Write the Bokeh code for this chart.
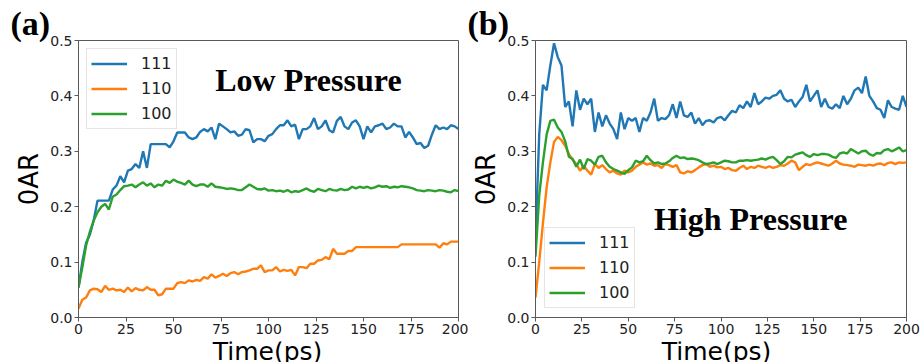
import math
from bokeh.plotting import figure
from bokeh.layouts import row, column
from bokeh.models import Label, FixedTicker, PrintfTickFormatter, Range1d, Title
from bokeh.embed import file_html
from bokeh.resources import INLINE

# ---------------- data ----------------
time_ps = list(range(0, 201, 2))
x_ticks = [0, 25, 50, 75, 100, 125, 150, 175, 200]
y_ticks = [0.0, 0.1, 0.2, 0.3, 0.4, 0.5]
series_names = ["111", "110", "100"]
series_colors = ["#1f77b4", "#ff7f0e", "#2ca02c"]

low_111 = [
    0.054, 0.10, 0.135, 0.15, 0.175, 0.211, 0.211, 0.211, 0.211, 0.231,
    0.238, 0.255, 0.244, 0.265, 0.268, 0.277, 0.27, 0.30, 0.27, 0.313,
    0.313, 0.313, 0.313, 0.313, 0.307, 0.318, 0.334, 0.334, 0.334, 0.325,
    0.322, 0.325, 0.335, 0.34, 0.336, 0.343, 0.322, 0.35, 0.345, 0.34,
    0.334, 0.336, 0.328, 0.33, 0.34, 0.338, 0.316, 0.322, 0.322, 0.318,
    0.328, 0.331, 0.34, 0.347, 0.347, 0.356, 0.345, 0.348, 0.322, 0.34,
    0.34, 0.345, 0.36, 0.34, 0.345, 0.356, 0.338, 0.334, 0.355, 0.362,
    0.345, 0.34, 0.352, 0.356, 0.345, 0.322, 0.345, 0.334, 0.345, 0.347,
    0.35, 0.34, 0.343, 0.35, 0.345, 0.345, 0.325, 0.335, 0.325, 0.313,
    0.315, 0.306, 0.31, 0.33, 0.347, 0.34, 0.343, 0.34, 0.347, 0.345,
    0.34,
]
low_110 = [
    0.016, 0.032, 0.036, 0.049, 0.052, 0.051, 0.046, 0.057, 0.05, 0.052,
    0.049, 0.05, 0.046, 0.054, 0.047, 0.053, 0.05, 0.049, 0.055, 0.05,
    0.05, 0.04, 0.042, 0.052, 0.052, 0.052, 0.062, 0.064, 0.062, 0.067,
    0.065, 0.068, 0.066, 0.073, 0.07, 0.078, 0.072, 0.075, 0.079, 0.075,
    0.08, 0.082, 0.078, 0.082, 0.083, 0.085, 0.088, 0.088, 0.094, 0.082,
    0.085, 0.085, 0.091, 0.083, 0.086, 0.084, 0.086, 0.076, 0.091, 0.091,
    0.089, 0.097, 0.097, 0.103, 0.104, 0.109, 0.105, 0.124, 0.115, 0.115,
    0.115, 0.12, 0.12, 0.127, 0.127, 0.127, 0.127, 0.127, 0.127, 0.127,
    0.127, 0.127, 0.127, 0.127, 0.127, 0.132, 0.132, 0.132, 0.132, 0.132,
    0.132, 0.132, 0.132, 0.132, 0.132, 0.126, 0.134, 0.132, 0.137, 0.137,
    0.137,
]
low_100 = [
    0.054, 0.09, 0.13, 0.155, 0.175, 0.19, 0.2, 0.205, 0.195, 0.218,
    0.222, 0.23, 0.237, 0.238, 0.24, 0.235, 0.24, 0.244, 0.238, 0.242,
    0.235, 0.24, 0.238, 0.247, 0.243, 0.249, 0.245, 0.243, 0.24, 0.247,
    0.24, 0.237, 0.24, 0.24, 0.236, 0.242, 0.236, 0.235, 0.234, 0.232,
    0.233, 0.232, 0.23, 0.23, 0.235, 0.24, 0.236, 0.232, 0.231, 0.233,
    0.229, 0.23, 0.228, 0.229, 0.227, 0.23, 0.226, 0.228, 0.227, 0.23,
    0.233, 0.229, 0.227, 0.232, 0.23, 0.228, 0.232, 0.23, 0.229, 0.232,
    0.23, 0.231, 0.236, 0.233, 0.236, 0.234, 0.236, 0.233, 0.235, 0.238,
    0.236, 0.237, 0.234, 0.236, 0.235, 0.237, 0.236, 0.235, 0.233, 0.23,
    0.229, 0.228, 0.23, 0.229, 0.228, 0.23, 0.229, 0.227, 0.226, 0.23,
    0.228,
]

high_111 = [
    0.14, 0.33, 0.42, 0.41, 0.455, 0.495, 0.47, 0.455, 0.38, 0.39,
    0.345, 0.41, 0.375, 0.395, 0.385, 0.395, 0.335, 0.37, 0.345, 0.365,
    0.35, 0.34, 0.322, 0.37, 0.34, 0.36, 0.355, 0.36, 0.335, 0.36,
    0.355, 0.37, 0.395, 0.355, 0.36, 0.358, 0.365, 0.385, 0.36, 0.39,
    0.365, 0.362, 0.37, 0.35, 0.36, 0.347, 0.355, 0.356, 0.352, 0.36,
    0.362, 0.356, 0.365, 0.373, 0.37, 0.383, 0.378, 0.39, 0.38, 0.405,
    0.385, 0.39, 0.397, 0.395, 0.4, 0.402, 0.41, 0.395, 0.39, 0.393,
    0.38, 0.39, 0.398, 0.42, 0.39, 0.4, 0.41, 0.38, 0.395, 0.38,
    0.377, 0.385, 0.378, 0.4, 0.385, 0.395, 0.41, 0.415, 0.405, 0.435,
    0.4, 0.39, 0.378, 0.375, 0.36, 0.392, 0.38, 0.377, 0.375, 0.40,
    0.38,
]
high_110 = [
    0.036, 0.1, 0.17, 0.235, 0.28, 0.317, 0.326, 0.32, 0.31, 0.295,
    0.285, 0.277, 0.265, 0.274, 0.265, 0.258, 0.277, 0.27, 0.275, 0.268,
    0.262, 0.265, 0.26, 0.258, 0.265, 0.262, 0.265, 0.272, 0.276, 0.28,
    0.276, 0.278, 0.274, 0.275, 0.27, 0.277, 0.275, 0.272, 0.275, 0.262,
    0.26, 0.264, 0.262, 0.266, 0.271, 0.275, 0.277, 0.272, 0.274, 0.271,
    0.272, 0.268, 0.27, 0.266, 0.265, 0.27, 0.274, 0.268, 0.272, 0.27,
    0.274, 0.272, 0.27, 0.273, 0.27, 0.272, 0.275, 0.274, 0.278, 0.283,
    0.28, 0.266, 0.272, 0.277, 0.275, 0.278, 0.28, 0.278, 0.276, 0.274,
    0.278, 0.283, 0.278, 0.276, 0.275, 0.274, 0.272, 0.276, 0.275, 0.274,
    0.276, 0.274, 0.277, 0.278, 0.275, 0.279, 0.28, 0.277, 0.28, 0.279,
    0.28,
]
high_100 = [
    0.11, 0.22, 0.28, 0.33, 0.355, 0.357, 0.343, 0.335, 0.318, 0.29,
    0.286, 0.272, 0.285, 0.268, 0.286, 0.283, 0.276, 0.29, 0.292, 0.28,
    0.272, 0.268, 0.265, 0.262, 0.259, 0.266, 0.271, 0.283, 0.28, 0.282,
    0.292, 0.284, 0.278, 0.28, 0.277, 0.278, 0.282, 0.288, 0.292, 0.288,
    0.289, 0.286, 0.287, 0.286, 0.284, 0.28, 0.277, 0.278, 0.28, 0.277,
    0.28, 0.283, 0.282, 0.28, 0.28, 0.283, 0.283, 0.284, 0.283, 0.284,
    0.285, 0.287, 0.285, 0.288, 0.29, 0.284, 0.277, 0.282, 0.29, 0.289,
    0.294, 0.296, 0.298, 0.293, 0.29, 0.295, 0.293, 0.295, 0.295, 0.294,
    0.29, 0.288, 0.296, 0.298, 0.296, 0.304, 0.3, 0.296, 0.3, 0.301,
    0.295, 0.292, 0.297, 0.296, 0.302, 0.304, 0.3, 0.303, 0.307, 0.3,
    0.302,
]

AX_COLOR = "#595959"
TXT_COLOR = "#222222"
TOP_B = 40
FRAME_H = 277
BOTTOM_B = 24
MAIN_H = TOP_B + FRAME_H + BOTTOM_B   # 341
STRIP_H = 21


def make_panel(width, border_left, border_right, series, tag, title,
               title_x, title_y, legend_loc, legend_margin):
    p = figure(width=width, height=MAIN_H,
               x_range=Range1d(0, 200), y_range=Range1d(0, 0.5),
               output_backend="svg", toolbar_location=None,
               min_border_left=border_left, min_border_right=border_right,
               min_border_top=TOP_B, min_border_bottom=BOTTOM_B)
    p.background_fill_color = "white"
    p.border_fill_color = "white"
    p.outline_line_color = AX_COLOR
    p.outline_line_width = 1
    p.grid.grid_line_color = None

    for name, color, vals in zip(series_names, series_colors, series):
        p.line(time_ps, vals, line_color=color, line_width=2.4, legend_label=name)

    p.xaxis.ticker = FixedTicker(ticks=x_ticks)
    p.yaxis.ticker = FixedTicker(ticks=y_ticks)
    p.yaxis.formatter = PrintfTickFormatter(format="%.1f")
    p.axis.axis_line_color = AX_COLOR
    p.axis.major_tick_line_color = AX_COLOR
    p.axis.major_tick_in = 0
    p.axis.major_tick_out = 4
    p.axis.minor_tick_line_color = None
    p.axis.major_label_text_font = "DejaVu Sans"
    p.axis.major_label_text_font_size = "14px"
    p.axis.major_label_text_color = TXT_COLOR
    p.axis.major_label_standoff = 2

    p.yaxis.axis_label = "0AR"
    p.yaxis.axis_label_text_font = "DejaVu Sans"
    p.yaxis.axis_label_text_font_size = "26px"
    p.yaxis.axis_label_text_font_style = "normal"
    p.yaxis.axis_label_text_color = "black"
    p.yaxis.axis_label_standoff = 3

    lg = p.legend[0]
    lg.location = legend_loc
    lg.label_text_font = "DejaVu Sans"
    lg.label_text_font_size = "16px"
    lg.label_text_color = TXT_COLOR
    lg.glyph_width = 36
    lg.glyph_height = 21
    lg.label_height = 21
    lg.label_standoff = 14
    lg.padding = 4
    lg.spacing = 4
    lg.margin = legend_margin
    lg.border_line_color = "#cccccc"
    lg.border_line_width = 1
    lg.background_fill_alpha = 0.85

    p.add_layout(Title(text=tag, align="left", offset=-68, standoff=-3,
                       text_font="Liberation Serif", text_font_style="bold",
                       text_font_size="34px", text_color="black"), "above")

    p.add_layout(Label(x=title_x, y=title_y, text=title,
                       text_font="Liberation Serif", text_font_style="bold",
                       text_font_size="32px", text_color="black",
                       text_align="center", text_baseline="middle"))
    return p


def make_strip(width, center_x):
    # thin strip under a panel that holds the (cropped) x-axis title
    s = figure(width=width, height=STRIP_H, x_range=Range1d(0, 1), y_range=Range1d(0, 1),
               output_backend="svg", toolbar_location=None,
               x_axis_type=None, y_axis_type=None,
               min_border_left=0, min_border_right=0,
               min_border_top=0, min_border_bottom=0)
    s.outline_line_color = None
    s.background_fill_color = "white"
    s.border_fill_color = "white"
    s.grid.grid_line_color = None
    s.add_layout(Label(x=center_x, y=10, x_units="canvas", y_units="canvas",
                       text="Time(ps)", text_font="DejaVu Sans", text_font_size="25px",
                       text_color="black", text_align="center",
                       text_baseline="middle"))
    return s


pa = make_panel(468, 78, 10, [low_111, low_110, low_100], "(a)", "Low Pressure",
                121, 0.429, "top_left", 8)
pb = make_panel(453, 60, 15, [high_111, high_110, high_100], "(b)", "High Pressure",
                116, 0.178, "bottom_left", 9)
sa = make_strip(468, 267)
sb = make_strip(453, 248)

layout = column(row(pa, pb), row(sa, sb))
open("out.html", "w").write(file_html(layout, INLINE))
